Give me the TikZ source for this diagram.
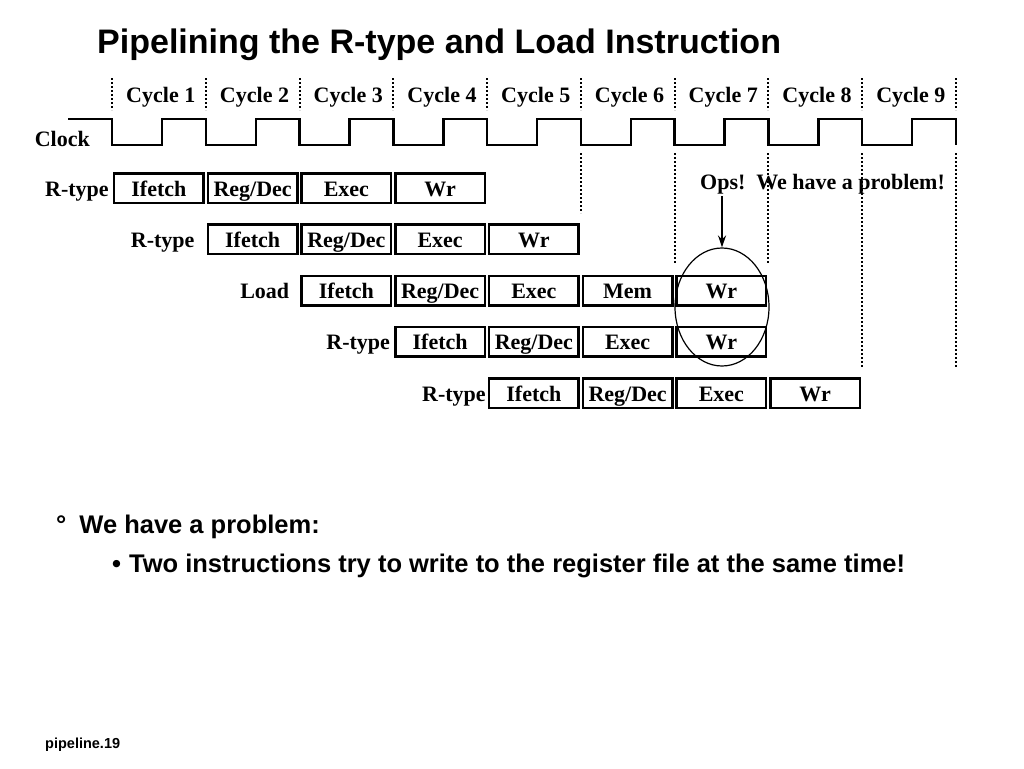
\documentclass[tikz,border=0pt]{standalone}
\usepackage{fontspec}
\setmainfont{Liberation Serif}
\setsansfont{Liberation Sans}
\usetikzlibrary{positioning}
\usetikzlibrary{arrows.meta}
\usetikzlibrary{shapes.geometric}

\tikzset{
    serifbold/.style={font=\fontsize{22}{24}\selectfont\bfseries},
    stage/.style={serifbold, draw, line width=2.5pt, minimum width=89.5pt,
        minimum height=29.5pt, inner sep=0pt, text height=18pt, text depth=2pt},
    rowlabel/.style={serifbold, inner sep=0pt},
    kindlabel/.style={rowlabel, text height=18pt, text depth=2pt},
    tick/.style={line width=2pt, dash pattern=on 2pt off 2pt},
    clockwave/.style={line width=2.5pt, line join=miter},
    slidetitle/.style={font=\fontsize{34}{38}\selectfont\sffamily\bfseries, inner sep=0pt},
    point/.style={font=\fontsize{25.5}{28}\selectfont\sffamily\bfseries, inner sep=0pt},
}

\begin{document}
\begin{tikzpicture}[x=1pt,y=-1pt]
        \useasboundingbox[fill=white] (0,0) rectangle (1024,768);
        \node[slidetitle, anchor=west] (title) at (97,45) {Pipelining the R-type and Load Instruction};

        \foreach \c in {0,...,9}
            \draw[tick] (112+\c*93.75,78) -- (112+\c*93.75,110);
        \foreach \c in {1,...,9}
            \node[rowlabel] (cycle\c) at (112+\c*93.75-45,97) {Cycle \c};
        \foreach \c/\bot in {5/213,6/263,7/263,8/367,9/367}
            \draw[tick] (112+\c*93.75,153) -- (112+\c*93.75,\bot);

        \node[rowlabel, anchor=east] (clock) at (90,139) {Clock};
        \draw[clockwave] (68,119) -- (112,119)
            \foreach \c in {0,...,8} { -- ++(0,26) -- ++(50,0) -- ++(0,-26) -- ++(43.75,0) }
            -- ++(0,26);

        \foreach \r/\start/\kind/\gap/\stages [evaluate=\r as \y using 188+(\r-1)*51.25] in {
            1/0/R-type/4pt/{Ifetch,Reg/Dec,Exec,Wr},
            2/1/R-type/12pt/{Ifetch,Reg/Dec,Exec,Wr},
            3/2/Load/11pt/{Ifetch,Reg/Dec,Exec,Mem,Wr},
            4/3/R-type/4pt/{Ifetch,Reg/Dec,Exec,Wr},
            5/4/R-type/2pt/{Ifetch,Reg/Dec,Exec,Wr}} {
            \foreach \s [count=\k from 0] in \stages
                \node[stage] (s\r-\k) at ({112+(\start+\k+0.5)*93.75},\y) {\s};
            \node[kindlabel, left=\gap of s\r-0] (kind\r) {\kind};
        }

        \node[draw, ellipse, line width=1.2pt, minimum width=94pt, minimum height=118pt,
            inner sep=0pt] (clash) at (722,307) {};
        \node[rowlabel, inner sep=2pt, anchor=west] (ops) at (698,184) {Ops!\ \ We have a problem!};
        \draw[-{Stealth[length=12pt,width=8pt]}, line width=2pt] (clash.north |- ops.south) -- (clash.north);

        \node[point, anchor=west] (p1) at (56,527) {°\hspace{13pt}We have a problem:};
        \node[point, anchor=west] (p2) at (112,566) {•\hspace{8pt}Two instructions try to write to the register file at the same time!};
        \node[font=\fontsize{14.5}{16}\selectfont\sffamily\bfseries, inner sep=0pt, anchor=west] (footer) at (45,745) {pipeline.19};
    \end{tikzpicture}
\end{document}
